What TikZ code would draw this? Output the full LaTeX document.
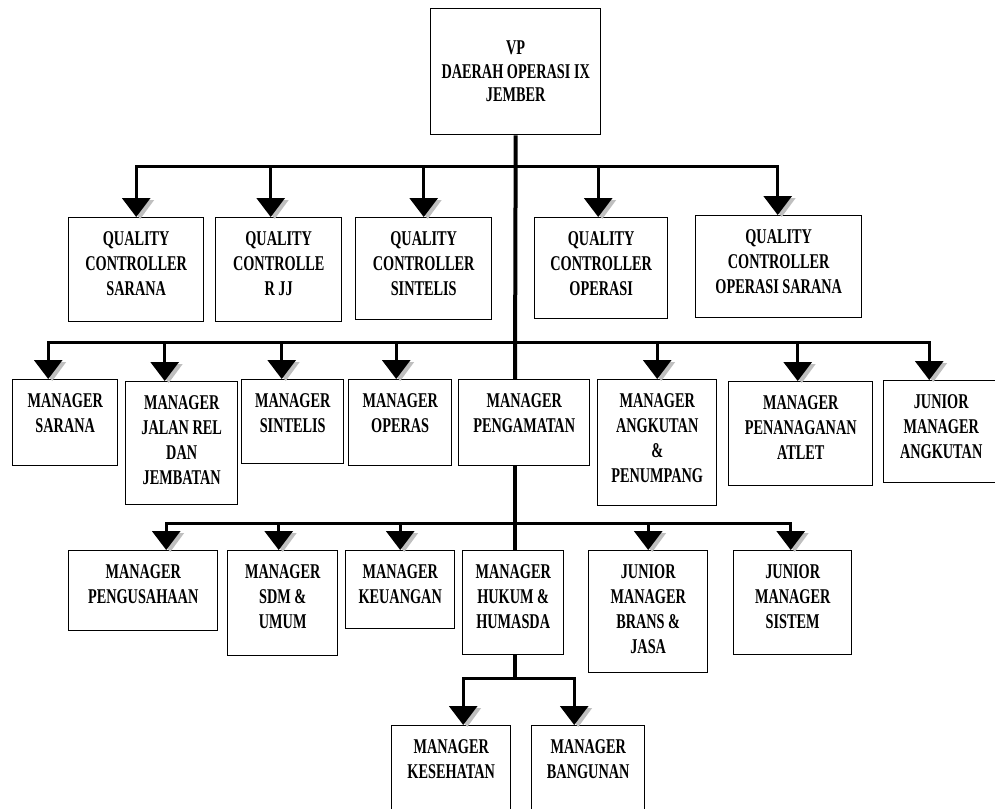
\documentclass[tikz,border=0pt]{standalone}
\usepackage{fontspec}
\setmainfont{Liberation Serif}[FakeStretch=0.68]
\usetikzlibrary{arrows.meta,positioning}

\begin{document}
\begin{tikzpicture}[x=1pt,y=-1pt,
    unit/.style={draw,line width=1.4pt,inner sep=0pt,anchor=north west},
    lbl/.style={inner sep=0pt,align=center,font=\fontsize{21}{25}\selectfont\bfseries},
    link/.style={line width=3pt,-{Triangle[width=28pt,length=19pt]}},
    trunk/.style={line width=4pt},
    tipshade/.style={fill=gray!50}]

    \useasboundingbox (0,0) rectangle (995,808);

    % top box
    \node[unit,minimum width=170pt,minimum height=126pt] (vp) at (430,8) {};
    \node[lbl,font=\fontsize{21}{23.5}\selectfont\bfseries] (vp-t) at (vp) {VP\\DAERAH OPERASI IX\\JEMBER};

    % points where the rows branch off the trunk
    \coordinate (b1) at (515,166);
    \coordinate (b2) at (515,342);
    \coordinate (b3) at (515,523);
    \coordinate (b4) at (515,678);

    \foreach \n/\xa/\ya/\xb/\yb/\t in {
        qc1/68/217/203/321/QUALITY\\CONTROLLER\\SARANA,
        qc2/215/217/341/321/QUALITY\\CONTROLLE\\R JJ,
        qc3/355/217/491/319/QUALITY\\CONTROLLER\\SINTELIS,
        qc4/534/217/667/318/QUALITY\\CONTROLLER\\OPERASI,
        qc5/695/215/861/317/QUALITY\\CONTROLLER\\OPERASI SARANA,
        m1/12/379/117/465/MANAGER\\SARANA,
        m2/125/381/237/504/MANAGER\\JALAN REL\\DAN\\JEMBATAN,
        m3/241/379/343/463/MANAGER\\SINTELIS,
        m4/348/379/451/465/MANAGER\\OPERAS,
        m5/458/379/589/465/MANAGER\\PENGAMATAN,
        m6/597/379/716/505/MANAGER\\ANGKUTAN\\\&\\PENUMPANG,
        m7/728/381/872/485/MANAGER\\PENANAGANAN\\ATLET,
        m8/883/380/998/482/JUNIOR\\MANAGER\\ANGKUTAN,
        s1/68/550/217/630/MANAGER\\PENGUSAHAAN,
        s2/227/550/337/655/MANAGER\\SDM \&\\UMUM,
        s3/345/550/454/628/MANAGER\\KEUANGAN,
        s4/462/550/563/654/MANAGER\\HUKUM \&\\HUMASDA,
        s5/588/550/707/672/JUNIOR\\MANAGER\\BRANS \&\\JASA,
        s6/733/550/851/654/JUNIOR\\MANAGER\\SISTEM,
        k1/391/725/510/815/MANAGER\\KESEHATAN,
        k2/531/725/644/815/MANAGER\\BANGUNAN} {
        \node[unit,minimum width={\xb-\xa},minimum height={\yb-\ya}] (\n) at (\xa,\ya) {};
        \node[lbl,anchor=north] (\n-t) at ([yshift=-14pt]\n.north) {\t};
    }

    % trunk
    \draw[trunk] (vp.south) -- (b2 |- m5.north);
    \draw[trunk] (b2 |- m5.south) -- (b3 |- s4.north);
    \draw[trunk] (b3 |- s4.south) -- (b4);

    \foreach \n/\dx/\b in {qc1/0/b1, qc2/-8/b1, qc3/0/b1, qc4/-3/b1, qc5/-1/b1,
        m1/-17/b2, m2/-17/b2, m3/-11/b2, m4/-4/b2, m6/0/b2, m7/-3/b2, m8/-12/b2,
        s1/23/b3, s2/-4/b3, s3/0/b3, s5/0/b3, s6/-2/b3, k1/12/b4, k2/-14/b4} {
        \fill[tipshade] ([xshift=\dx pt+4pt,yshift=-2pt]\n.north) -- ++(-14,-19) -- ++(28,0) -- cycle;
        \draw[link] (\b) -| ([xshift=\dx pt]\n.north);
    }
\end{tikzpicture}
\end{document}
